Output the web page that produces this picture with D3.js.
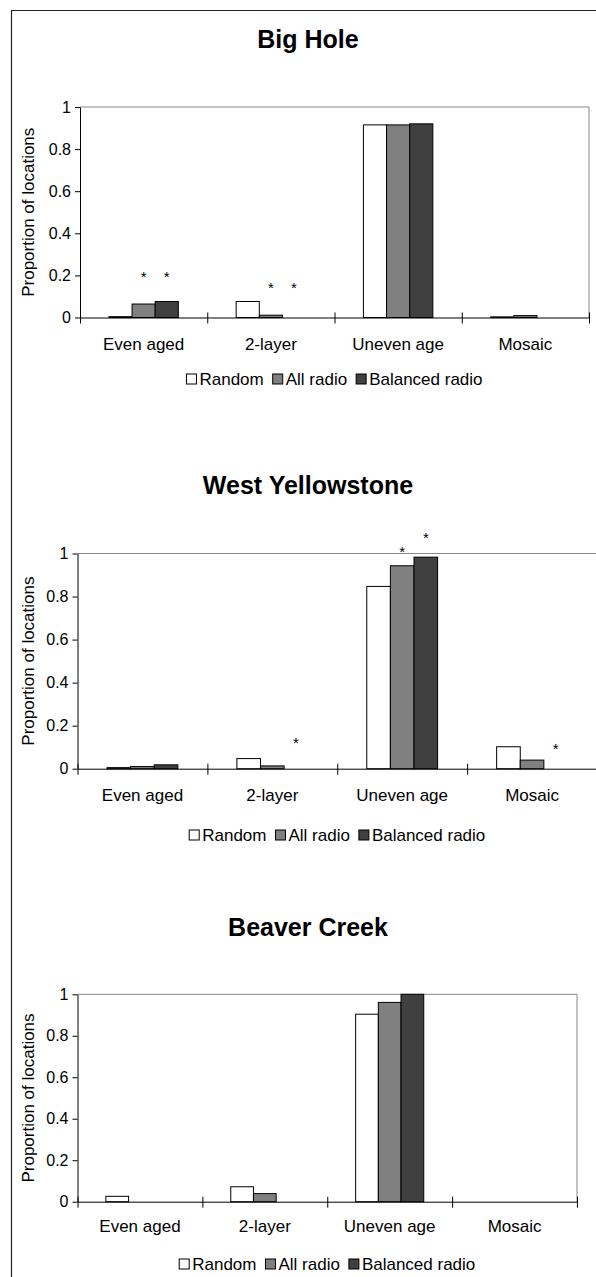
<!DOCTYPE html>
<html>
<head>
<meta charset="utf-8">
<script src="https://cdn.jsdelivr.net/npm/d3@7"></script>
<style>
  body { margin: 0; background: #fff; }
  svg { display: block; font-family: "Liberation Sans", Arial, sans-serif; }
</style>
</head>
<body>
<svg id="chart" width="596" height="1277"></svg>
<script>
// categories / series
const categories = ['Even aged', '2-layer', 'Uneven age', 'Mosaic']
const seriesNames = ['Random', 'All radio', 'Balanced radio']
const yTicks = [0, 0.2, 0.4, 0.6, 0.8, 1]

// Big Hole
const bigHoleRandom = [0.004, 0.076, 0.915, 0.003]
const bigHoleAllRadio = [0.064, 0.011, 0.915, 0.009]
const bigHoleBalanced = [0.076, 0, 0.92, 0]
// asterisks: [category, series index, height]
const bigHoleStars = [['Even aged', 1, 0.211], ['Even aged', 2, 0.211], ['2-layer', 1, 0.156], ['2-layer', 2, 0.156]]

// West Yellowstone
const westRandom = [0.005, 0.047, 0.847, 0.102]
const westAllRadio = [0.01, 0.013, 0.943, 0.04]
const westBalanced = [0.018, 0, 0.983, 0]
const westStars = [['2-layer', 2, 0.134], ['Uneven age', 1, 1.025], ['Uneven age', 2, 1.087], ['Mosaic', 2, 0.11]]

// Beaver Creek
const beaverRandom = [0.026, 0.072, 0.904, 0]
const beaverAllRadio = [0, 0.039, 0.961, 0]
const beaverBalanced = [0, 0, 1.0, 0]
const beaverStars = []

const colors = ['#ffffff', '#808080', '#404040']

const panels = [
  { title: 'Big Hole', series: [bigHoleRandom, bigHoleAllRadio, bigHoleBalanced], stars: bigHoleStars,
    titleY: 39, left: 80, right: 589, top: 107, bottom: 317.5, labelY: 344, legendY: 379 },
  { title: 'West Yellowstone', series: [westRandom, westAllRadio, westBalanced], stars: westStars,
    titleY: 485, left: 77.5, right: 597, top: 553.5, bottom: 768.7, labelY: 795, legendY: 835 },
  { title: 'Beaver Creek', series: [beaverRandom, beaverAllRadio, beaverBalanced], stars: beaverStars,
    titleY: 927, left: 77.5, right: 577, top: 994.3, bottom: 1201.7, labelY: 1226, legendY: 1264 }
]

const svg = d3.select('#chart')

// outer frame (left and top edges)
svg.append('path')
  .attr('d', 'M11.5,1277V10.5H596')
  .attr('fill', 'none')
  .attr('stroke', '#222')
  .attr('stroke-width', 1.2)

panels.forEach(p => {
  const g = svg.append('g')
  const x0 = d3.scaleBand().domain(categories).range([p.left, p.right])
  const x1 = d3.scaleBand().domain(d3.range(seriesNames.length))
    .range([0, x0.bandwidth()]).paddingInner(0).paddingOuter(1.25)
  const y = d3.scaleLinear().domain([0, 1]).range([p.bottom, p.top])
  const cx = (p.left + p.right) / 2

  g.append('text')
    .attr('x', 308)
    .attr('y', p.titleY)
    .attr('text-anchor', 'middle')
    .attr('dominant-baseline', 'central')
    .attr('font-size', 25)
    .attr('font-weight', 'bold')
    .text(p.title)

  // plot area border (top + right)
  g.append('path')
    .attr('d', `M${p.left},${y(1)}H${p.right}V${y(0)}`)
    .attr('fill', 'none')
    .attr('stroke', '#888')

  // bars
  p.series.forEach((vals, si) => {
    g.append('g').selectAll('rect')
      .data(vals.map((v, i) => ({ cat: categories[i], v })))
      .join('rect')
      .attr('x', d => x0(d.cat) + x1(si))
      .attr('width', x1.bandwidth())
      .attr('y', d => y(d.v))
      .attr('height', d => y(0) - y(d.v))
      .attr('fill', colors[si])
      .attr('stroke', '#000')
      .attr('stroke-width', 1)
  })

  // y axis
  const yAxis = d3.axisLeft(y).tickValues(yTicks).tickSizeInner(5).tickSizeOuter(0)
    .tickPadding(4).tickFormat(d3.format('~g'))
  const ya = g.append('g').attr('transform', `translate(${p.left},0)`).call(yAxis)
  ya.selectAll('text').attr('font-size', 16).attr('fill', '#000')
  ya.selectAll('path,line').attr('stroke', '#000')
  ya.attr('font-family', null)

  // x axis line with cross ticks at category boundaries
  const xb = d3.scaleLinear().domain([0, categories.length]).range([p.left, p.right])
  const xAxis = d3.axisBottom(xb).ticks(categories.length).tickFormat('').tickSizeOuter(0)
  const xa = g.append('g').attr('transform', `translate(0,${y(0)})`).call(xAxis)
  xa.selectAll('line').attr('y1', -5).attr('y2', 6).attr('stroke', '#000')
  xa.select('.domain').attr('stroke', '#000')

  // category labels
  const xl = g.append('g').attr('transform', `translate(0,${y(0)})`)
    .call(d3.axisBottom(x0).tickSize(0).tickPadding(p.labelY - y(0) - 0.36 * 17))
  xl.select('.domain').remove()
  xl.selectAll('text').attr('font-size', 17).attr('fill', '#000')
  xl.attr('font-family', null)

  // y axis title
  g.append('text')
    .attr('transform', `translate(28,${(y(0) + y(1)) / 2}) rotate(-90)`)
    .attr('text-anchor', 'middle')
    .attr('dominant-baseline', 'central')
    .attr('font-size', 17)
    .text('Proportion of locations')

  // asterisks
  g.selectAll('.star')
    .data(p.stars)
    .join('text')
    .attr('class', 'star')
    .attr('x', d => x0(d[0]) + x1(d[1]) + x1.bandwidth() / 2)
    .attr('y', d => y(d[2]) + 0.57 * 15)
    .attr('text-anchor', 'middle')
    .attr('font-size', 15)
    .text('*')

  // legend
  const lg = g.append('g')
  let lx = 0
  seriesNames.forEach((name, i) => {
    lg.append('rect')
      .attr('x', lx).attr('y', -5)
      .attr('width', 10).attr('height', 10)
      .attr('fill', colors[i]).attr('stroke', '#000')
    const t = lg.append('text')
      .attr('x', lx + 13).attr('y', 0)
      .attr('dominant-baseline', 'central')
      .attr('font-size', 17)
      .text(name)
    lx += 13 + t.node().getComputedTextLength() + 9
  })
  const lw = lx - 9
  lg.attr('transform', `translate(${cx - lw / 2},${p.legendY})`)
})
</script>
</body>
</html>
